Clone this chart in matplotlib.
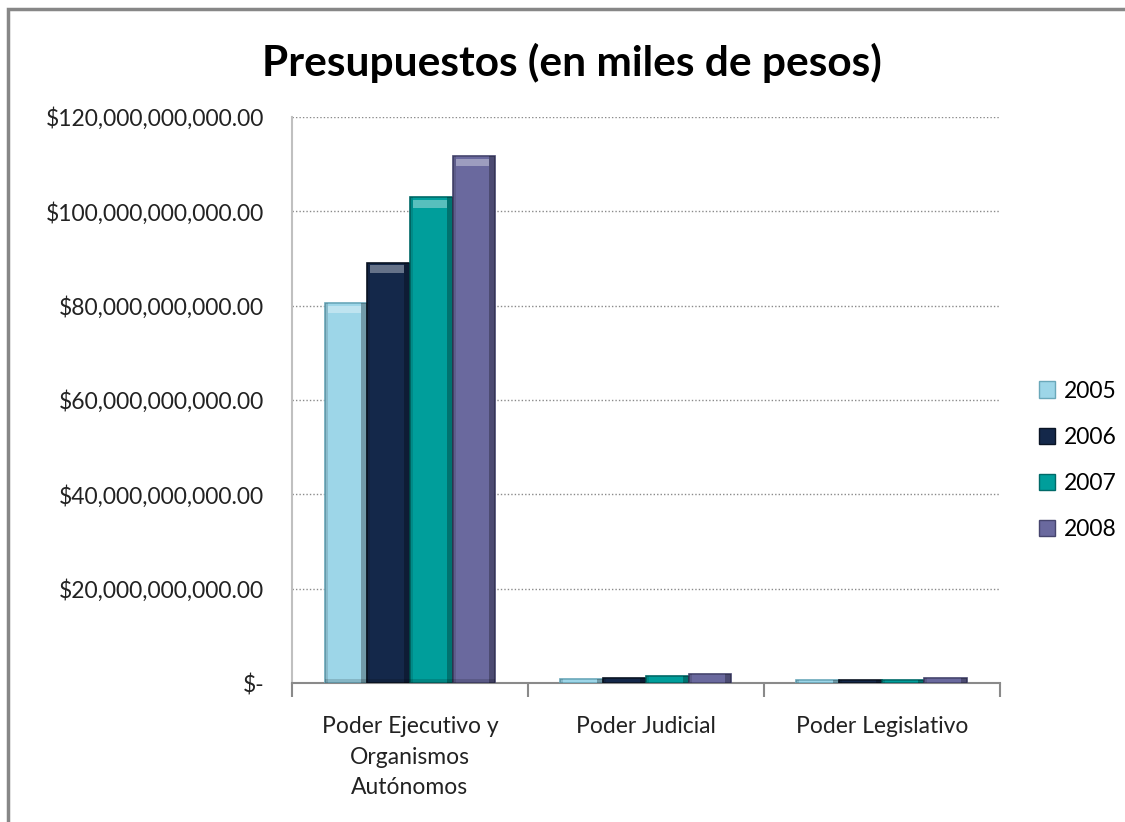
import matplotlib.pyplot as plt
from matplotlib.patches import Patch, Rectangle
from matplotlib.ticker import FuncFormatter, FixedLocator
import numpy as np

plt.rcParams['font.family'] = ['Lato', 'DejaVu Sans']

categories = ["Poder Ejecutivo y\nOrganismos\nAutónomos", "Poder Judicial", "Poder Legislativo"]
years = ["2005", "2006", "2007", "2008"]
# values in pesos
v2005 = [80.6e9, 0.8e9, 0.6e9]
v2006 = [89.1e9, 1.0e9, 0.6e9]
v2007 = [102.9e9, 1.4e9, 0.6e9]
v2008 = [111.7e9, 1.9e9, 1.0e9]
series = [v2005, v2006, v2007, v2008]
colors = ["#9dd6e8", "#14284a", "#009e9b", "#6a699e"]
edges = ["#6aa8ba", "#0a1424", "#006a68", "#46456e"]

fig = plt.figure(figsize=(11.25, 8.22), dpi=100)
ax = fig.add_axes([0.2596, 0.169, 0.629, 0.689])

# outer chart border
fig.patches.append(Rectangle((8 / 1125, -0.1), 1.2, (822 - 9) / 822 + 0.1,
                             transform=fig.transFigure, fill=False,
                             edgecolor="#878787", linewidth=2.5))

x = np.arange(len(categories))
w = 0.181
for i, (vals, c, ec) in enumerate(zip(series, colors, edges)):
    bars = ax.bar(x + (i - 1.5) * w, vals, width=w, color=c, edgecolor=ec,
                  linewidth=1.2, label=years[i], zorder=3)
    # fake bevel shading like the excel chart
    for b in bars:
        bx, bw, bh = b.get_x(), b.get_width(), b.get_height()
        ax.add_patch(Rectangle((bx + bw * 0.86, 0), bw * 0.14, bh, color="black",
                               alpha=0.28, lw=0, zorder=4))
        ax.add_patch(Rectangle((bx, 0), bw * 0.07, bh, color="black",
                               alpha=0.12, lw=0, zorder=4))
        if bh > 10e9:
            ax.add_patch(Rectangle((bx + bw * 0.07, bh - 2.2e9), bw * 0.79, 1.6e9,
                                   color="white", alpha=0.35, lw=0, zorder=4))
            ax.add_patch(Rectangle((bx, 0), bw, 0.9e9, color="black",
                                   alpha=0.15, lw=0, zorder=4))

ax.set_xlim(-0.5, 2.5)
ax.set_ylim(0, 120e9)
ax.set_yticks(np.arange(0, 121e9, 20e9))


def money(v, pos):
    if v == 0:
        return "$-"
    return "${:,.2f}".format(v)


ax.yaxis.set_major_formatter(FuncFormatter(money))
ax.yaxis.grid(True, linestyle=(0, (1, 1.5)), color="#8a8a8a", linewidth=1)
ax.set_axisbelow(True)
ax.tick_params(axis="y", length=0, pad=20, labelsize=16.5, labelcolor="#222222")

ax.xaxis.set_major_locator(FixedLocator([-0.5, 0.5, 1.5, 2.5]))
ax.xaxis.set_minor_locator(FixedLocator(x))
ax.set_xticklabels([], minor=False)
ax.set_xticklabels(categories, minor=True, linespacing=1.55)
ax.tick_params(axis="x", which="major", length=10, color="#8a8a8a", width=1.5)
ax.tick_params(axis="x", which="minor", length=0, pad=24, labelsize=16.5,
               labelcolor="#222222")
for lbl in ax.get_xticklabels(minor=True):
    lbl.set_verticalalignment("top")

for s in ["top", "right"]:
    ax.spines[s].set_visible(False)
ax.spines["left"].set_color("#c0c0c0")
ax.spines["left"].set_linewidth(1.5)
ax.spines["bottom"].set_color("#8a8a8a")
ax.spines["bottom"].set_linewidth(1.5)

fig.text(0.508, 0.924, "Presupuestos (en miles de pesos)", ha="center", va="center",
         fontsize=30.5, fontweight="bold", color="black")

handles = [Patch(facecolor=c, edgecolor=ec) for c, ec in zip(colors, edges)]
fig.legend(handles, years, loc="center left", bbox_to_anchor=(0.905, 0.44),
           frameon=False, fontsize=16.5, handlelength=0.7, handleheight=0.7,
           handletextpad=0.4, labelspacing=1.1)

fig.savefig("out.png", dpi=100)
